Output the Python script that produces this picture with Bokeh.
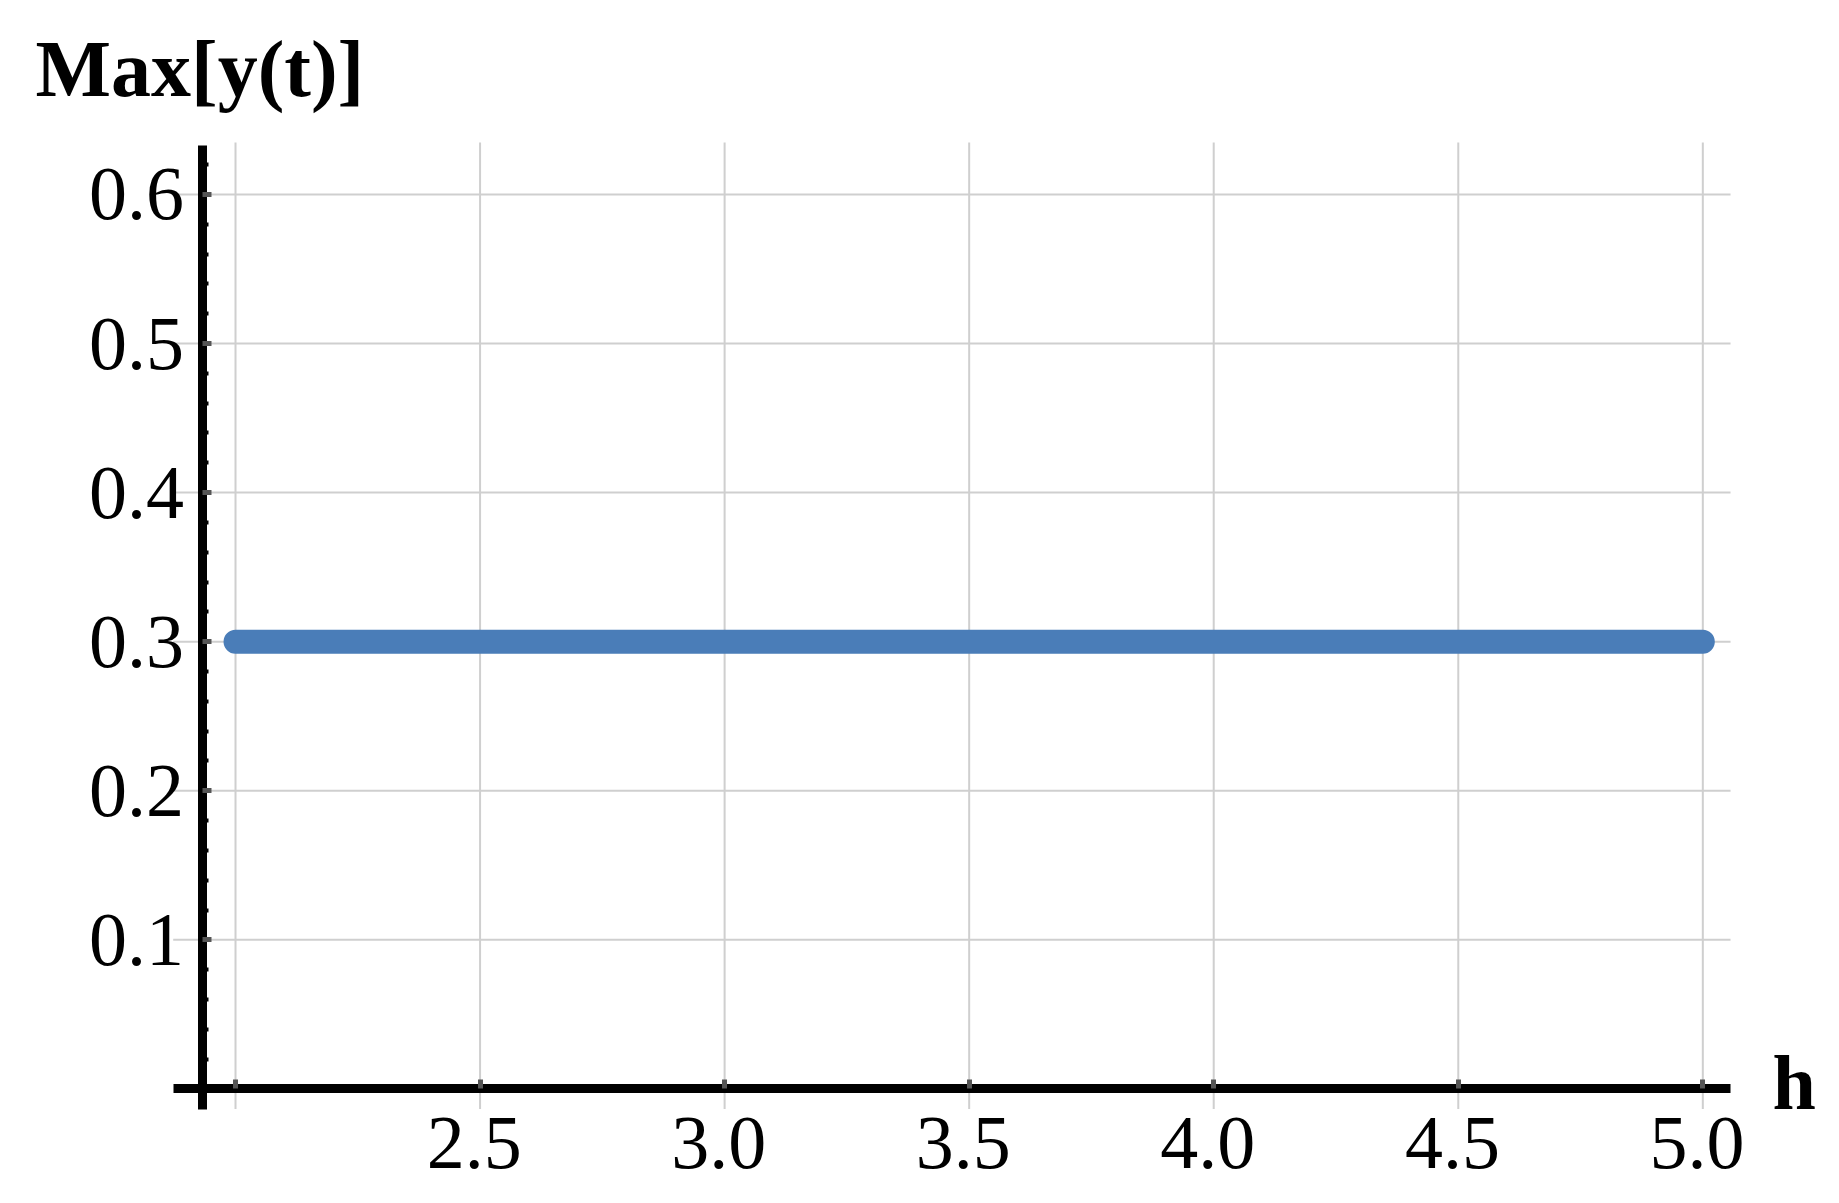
from bokeh.plotting import figure
from bokeh.models import LinearAxis, FixedTicker, Range1d, Label, CustomJSTickFormatter, Grid
from bokeh.embed import file_html
from bokeh.resources import INLINE

# ---- data ----
h_values = [2.0, 2.5, 3.0, 3.5, 4.0, 4.5, 5.0]
max_y_values = [0.3, 0.3, 0.3, 0.3, 0.3, 0.3, 0.3]

x_tick_values = [2.5, 3.0, 3.5, 4.0, 4.5, 5.0]
x_tick_labels = ["2.5", "3.0", "3.5", "4.0", "4.5", "5.0"]
x_grid_values = [2.0, 2.5, 3.0, 3.5, 4.0, 4.5, 5.0]

y_tick_values = [0.1, 0.2, 0.3, 0.4, 0.5, 0.6]
y_tick_labels = ["0.1", "0.2", "0.3", "0.4", "0.5", "0.6"]
y_minor_values = [0.02, 0.04, 0.06, 0.08, 0.12, 0.14, 0.16, 0.18,
                  0.22, 0.24, 0.26, 0.28, 0.32, 0.34, 0.36, 0.38,
                  0.42, 0.44, 0.46, 0.48, 0.52, 0.54, 0.56, 0.58, 0.62]

y_axis_title = "Max[y(t)]"
x_axis_title = "h"

# ---- layout / style constants ----
X_RANGE = (1.5195, 5.2447)
Y_RANGE = (-0.06547, 0.73013)
X_AXIS_BOUNDS = (1.8726, 5.0567)
Y_AXIS_BOUNDS = (-0.0138, 0.6329)
VGRID_SPAN = (-0.0134, 0.6349)
Y_AXIS_AT = 1.9315
LABEL_SHIFT = 0.012   # x tick labels sit slightly left of their grid lines
LINE_COLOR = "#4a7db8"
GRID_COLOR = "#cfcfcf"
TICK_COLOR = "#555555"
FONT = "Liberation Serif"

p = figure(width=1822, height=1186, title=None,
           x_range=Range1d(*X_RANGE), y_range=Range1d(*Y_RANGE),
           x_axis_location=None, y_axis_location=None,
           toolbar_location=None, output_backend="svg",
           min_border_left=0, min_border_right=0,
           min_border_top=0, min_border_bottom=0,
           outline_line_color=None, background_fill_color="white",
           border_fill_color="white")
p.extra_x_ranges = {"lab": Range1d(X_RANGE[0] + LABEL_SHIFT, X_RANGE[1] + LABEL_SHIFT)}

for r in list(p.center):
    if isinstance(r, Grid):
        r.visible = False


def fmt(ticks, labels):
    return CustomJSTickFormatter(args=dict(ts=ticks, ls=labels), code="""
        let best = 0, bd = 1e9;
        for (let i = 0; i < ts.length; i++) {
            const d = Math.abs(ts[i] - tick);
            if (d < bd) { bd = d; best = i; }
        }
        return ls[best];
    """)


# grid lines that stop at the plot box
nv = len(x_grid_values)
p.segment(x0=x_grid_values, x1=x_grid_values,
          y0=[VGRID_SPAN[0]] * nv, y1=[VGRID_SPAN[1]] * nv,
          line_color=GRID_COLOR, line_width=2)
nh = len(y_tick_values)
p.segment(x0=[X_AXIS_BOUNDS[0]] * nh, x1=[X_AXIS_BOUNDS[1]] * nh,
          y0=y_tick_values, y1=y_tick_values,
          line_color=GRID_COLOR, line_width=2)

# data line
p.line(h_values, max_y_values, line_width=24, line_cap="round", color=LINE_COLOR)

# x axis: labels on a slightly shifted range, tick marks placed back on the grid lines
xaxis = LinearAxis(x_range_name="lab", fixed_location=0.0,
                   bounds=(X_AXIS_BOUNDS[0] + LABEL_SHIFT, X_AXIS_BOUNDS[1] + LABEL_SHIFT),
                   ticker=FixedTicker(ticks=x_tick_values,
                                      minor_ticks=[v + LABEL_SHIFT for v in x_grid_values]),
                   formatter=fmt(x_tick_values, x_tick_labels),
                   axis_line_color="black", axis_line_width=9,
                   major_tick_line_color=None,
                   minor_tick_in=9, minor_tick_out=0,
                   minor_tick_line_color=TICK_COLOR, minor_tick_line_width=5,
                   major_label_text_font=FONT,
                   major_label_text_font_size="76px",
                   major_label_text_color="black",
                   major_label_standoff=23)
p.add_layout(xaxis, "below")

yaxis = LinearAxis(fixed_location=Y_AXIS_AT, bounds=Y_AXIS_BOUNDS,
                   ticker=FixedTicker(ticks=y_tick_values, minor_ticks=y_minor_values),
                   formatter=fmt(y_tick_values, y_tick_labels),
                   axis_line_color="black", axis_line_width=9,
                   major_tick_in=9, major_tick_out=0,
                   major_tick_line_color=TICK_COLOR, major_tick_line_width=5,
                   minor_tick_in=6, minor_tick_out=0,
                   minor_tick_line_color="black", minor_tick_line_width=4,
                   major_label_text_font=FONT,
                   major_label_text_font_size="76px",
                   major_label_text_color="black",
                   major_label_standoff=18)
p.add_layout(yaxis, "left")

p.add_layout(Label(x=1.5911, y=0.6839, text=y_axis_title, text_font=FONT,
                   text_font_style="bold", text_font_size="80px",
                   text_baseline="alphabetic", text_align="left", text_color="black"))
p.add_layout(Label(x=5.1425, y=0.0040, text=x_axis_title, text_font=FONT,
                   text_font_style="bold", text_font_size="78px",
                   text_baseline="alphabetic", text_align="left", text_color="black"))

open("out.html", "w").write(file_html(p, INLINE))
